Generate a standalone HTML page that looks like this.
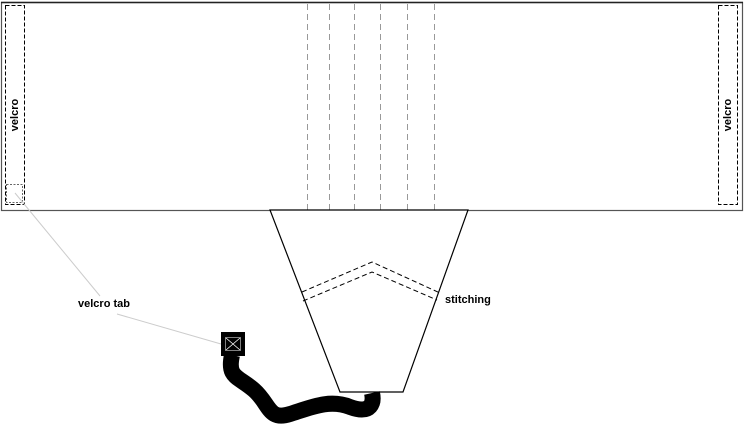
<!DOCTYPE html>
<html><head><style>body{margin:0;background:#fff}</style></head><body>
<svg width="745" height="425" viewBox="0 0 745 425" xmlns="http://www.w3.org/2000/svg" font-family="Liberation Sans, sans-serif">
<rect x="1.5" y="2.5" width="741" height="208" fill="#fff" stroke="#555" stroke-width="1.2"/>
<line x1="1" y1="2.5" x2="743" y2="2.5" stroke="#222" stroke-width="1.5"/>
<g stroke="#999" stroke-dasharray="6,4" stroke-width="1">
<line x1="307.5" y1="4" x2="307.5" y2="210"/>
<line x1="329.5" y1="4" x2="329.5" y2="210"/>
<line x1="354.5" y1="4" x2="354.5" y2="210"/>
<line x1="380.5" y1="4" x2="380.5" y2="210"/>
<line x1="407.5" y1="4" x2="407.5" y2="210"/>
<line x1="434.5" y1="4" x2="434.5" y2="210"/>
</g>
<rect x="5.5" y="5.5" width="19" height="199" fill="none" stroke="#000" stroke-dasharray="4,2"/>
<rect x="718.5" y="5.5" width="19" height="199" fill="none" stroke="#000" stroke-dasharray="4,2"/>
<rect x="6.5" y="184.5" width="16" height="18" fill="none" stroke="#666" stroke-dasharray="2,1.5"/>
<text transform="translate(18,115) rotate(-90)" font-size="11" font-weight="bold" text-anchor="middle">velcro</text>
<text transform="translate(731,115) rotate(-90)" font-size="11" font-weight="bold" text-anchor="middle">velcro</text>
<line x1="15" y1="193" x2="100" y2="296" stroke="#ccc"/>
<line x1="117" y1="314" x2="221" y2="344" stroke="#ccc"/>
<text x="78" y="307" font-size="11" font-weight="bold">velcro tab</text>
<polygon points="270,210 468,210 403,392 340,392" fill="#fff" stroke="#000" stroke-width="1.2"/>
<g fill="none" stroke="#000" stroke-dasharray="5,3">
<polyline points="302,292 372,262 440,293"/>
<polyline points="303,301 372,272 437,300"/>
</g>
<text x="445" y="303" font-size="11" font-weight="bold">stitching</text>
<path d="M232,355 C227,378 238,376 254,390 C270,404 268,421 290,414 C312,407 330,399 350,407 C372,415 374,402 372,393" fill="none" stroke="#000" stroke-width="16"/>
<rect x="221" y="332" width="24" height="24" fill="#000"/>
<rect x="225.5" y="337.5" width="15" height="13" fill="none" stroke="#fff" stroke-dasharray="1,1"/>
<path d="M226,338 L240,350 M240,338 L226,350" stroke="#fff" stroke-width="0.8"/>
</svg>
</body></html>
